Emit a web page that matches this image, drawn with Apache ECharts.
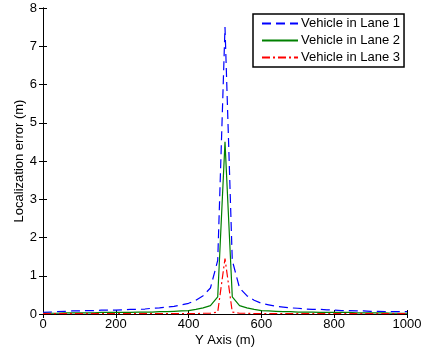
<!DOCTYPE html>
<html>
<head>
<meta charset="utf-8">
<script src="https://cdn.jsdelivr.net/npm/echarts@6/dist/echarts.min.js"></script>
<style>
html,body{margin:0;padding:0;background:#fff;}
#chart{width:425px;height:349px;}
</style>
</head>
<body>
<div id="chart"></div>
<script>
// positions along the road (m)
var yPos = [0,20,40,60,80,100,120,140,160,180,200,220,240,260,280,300,320,340,360,380,
            400,420,440,460,480,500,520,540,560,580,600,620,640,660,680,700,720,740,760,780,
            800,820,840,860,880,900,920,940,960,980,1000];
// localization error (m)
var lane1 = [0.04,0.05,0.06,0.07,0.08,0.08,0.09,0.09,0.1,0.1,0.1,0.11,0.12,0.12,0.13,0.15,0.16,0.18,0.2,0.24,
             0.28,0.36,0.48,0.68,1.4,7.5,1.4,0.68,0.48,0.36,0.28,0.24,0.2,0.18,0.16,0.15,0.13,0.12,0.12,0.11,
             0.1,0.09,0.09,0.08,0.08,0.07,0.07,0.06,0.06,0.06,0.06];
var lane2 = [0.02,0.02,0.02,0.03,0.03,0.03,0.03,0.03,0.04,0.04,0.04,0.04,0.04,0.05,0.05,0.05,0.06,0.06,0.07,0.08,
             0.09,0.12,0.16,0.22,0.45,4.5,0.45,0.22,0.16,0.12,0.09,0.08,0.07,0.06,0.06,0.05,0.05,0.05,0.04,0.04,
             0.04,0.04,0.04,0.03,0.03,0.03,0.03,0.03,0.02,0.02,0.02];
var lane3 = [0.01,0.01,0.01,0.01,0.01,0.01,0.01,0.01,0.01,0.01,0.01,0.01,0.01,0.01,0.01,0.01,0.01,0.01,0.01,0.01,
             0.01,0.01,0.02,0.02,0.05,1.45,0.05,0.02,0.02,0.01,0.01,0.01,0.01,0.01,0.01,0.01,0.01,0.01,0.01,0.01,
             0.01,0.01,0.01,0.01,0.01,0.01,0.01,0.01,0.01,0.01,0.01];
var names = ['Vehicle in Lane 1','Vehicle in Lane 2','Vehicle in Lane 3'];

function pairs(vals){
  var out = [];
  for (var i = 0; i < yPos.length; i++) out.push([yPos[i], vals[i]]);
  return out;
}

var font = 'Liberation Sans, Arial, Helvetica, sans-serif';
var axisLine = {show:true, lineStyle:{color:'#000', width:1}};
var tick = {show:true, inside:true, length:4, lineStyle:{color:'#000'}};

var myChart = echarts.init(document.getElementById('chart'));
var option = {
  animation: false,
  backgroundColor: '#fff',
  grid: {left:43, right:18, top:8, bottom:35, outerBoundsMode:'none', containLabel:false},
  legend: {
    data: names,
    orient: 'vertical',
    left: 253, top: 14,
    backgroundColor: '#fff',
    borderColor: '#000', borderWidth: 1.5,
    padding: [3,4,3,8],
    itemWidth: 36, itemHeight: 10, itemGap: 4,
    itemStyle: {opacity: 0},
    textStyle: {fontFamily: font, fontSize: 13, color:'#000', padding:[0,0,0,-2]}
  },
  xAxis: [{
    type: 'value', min: 0, max: 1000, interval: 200,
    name: 'Y Axis (m)', nameLocation: 'middle', nameGap: 20, nameMoveOverlap: false,
    nameTextStyle: {fontFamily: font, fontSize: 13, color:'#000'},
    axisLine: axisLine, axisTick: tick,
    axisLabel: {fontFamily: font, fontSize: 13, color:'#000', margin: 4,
                formatter: function(v){ return String(v); }},
    splitLine: {show:false}
  }, {
    type: 'value', min: 0, max: 1000, interval: 200, position: 'top',
    axisLine: axisLine, axisTick: tick, axisLabel: {show:false}, splitLine: {show:false}
  }],
  yAxis: [{
    type: 'value', min: 0, max: 8, interval: 1,
    name: 'Localization error (m)', nameLocation: 'middle', nameGap: 17, nameMoveOverlap: false,
    nameTextStyle: {fontFamily: font, fontSize: 13, color:'#000'},
    axisLine: axisLine, axisTick: tick,
    axisLabel: {fontFamily: font, fontSize: 13, color:'#000', margin: 6},
    splitLine: {show:false}
  }, {
    type: 'value', min: 0, max: 8, interval: 1, position: 'right',
    axisLine: axisLine, axisTick: tick, axisLabel: {show:false}, splitLine: {show:false}
  }],
  series: [{
    name: names[0], type: 'line', data: pairs(lane1), symbol: 'none',
    itemStyle: {color:'#0000ff'},
    lineStyle: {color:'#0000ff', width:1.2, type:[9,5]}
  }, {
    name: names[1], type: 'line', data: pairs(lane2), symbol: 'none',
    itemStyle: {color:'#008000'},
    lineStyle: {color:'#008000', width:1.2}
  }, {
    name: names[2], type: 'line', data: pairs(lane3), symbol: 'none',
    itemStyle: {color:'#ff0000'},
    lineStyle: {color:'#ff0000', width:1.2, type:[8,3,2,3]}
  }]
};
myChart.setOption(option);
</script>
</body>
</html>
